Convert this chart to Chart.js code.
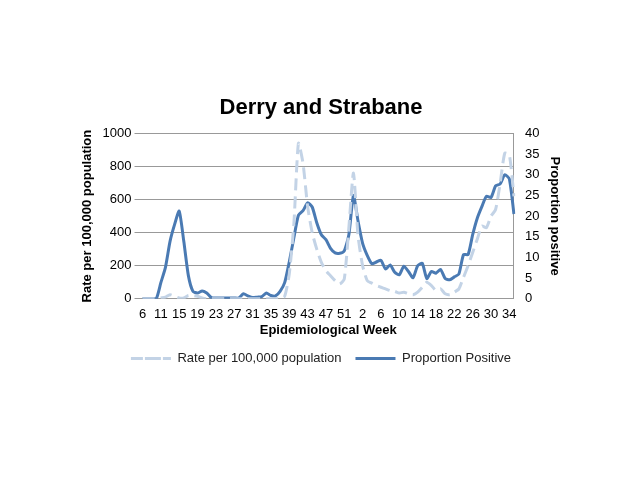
<!DOCTYPE html>
<html><head><meta charset="utf-8">
<script src="https://cdn.jsdelivr.net/npm/chart.js@4"></script>
<style>body{margin:0;background:#fff}#w{position:absolute;left:76px;top:95px;width:490px;height:280px}</style>
</head><body><div id="w"><canvas id="c"></canvas></div>
<script>
const weeks=[6,8,9,10,11,12,13,14,15,16,17,18,19,20,21,22,23,24,25,26,27,28,29,30,31,32,33,34,35,36,37,38,39,40,41,42,43,44,45,46,47,48,49,50,51,52,53,1,2,3,4,5,6,7,8,9,10,11,12,13,14,15,16,17,18,19,20,21,22,23,24,25,26,27,28,29,30,31,32,33,34,35];
const ratePer100k=[0,0,0,0,5,10,25,15,5,5,20,20,15,5,0,0,0,0,0,0,0,0,0,0,0,0,0,0,0,0,0,15,150,450,940,820,560,400,300,220,170,140,110,90,120,430,760,380,200,110,95,80,70,60,50,45,35,40,30,25,40,70,100,80,50,60,30,25,40,60,130,200,280,360,440,430,500,540,700,880,870,620];
const proportionPositive=[0,0,0,0,3.9,7.6,13.9,18,21.2,13.9,5.6,1.8,1.4,1.9,1.4,0.3,0.2,0.2,0.2,0.2,0.2,0.2,1.2,0.7,0.3,0.4,0.5,1.4,0.8,0.7,1.8,3.9,8.9,14.7,20.2,21.3,23.2,22.2,18.4,15.5,14.3,12.2,11.1,11,11.6,15.5,25,18.8,13.4,10.5,8.5,8.9,9.3,7.2,8.2,6.4,5.8,7.9,6.6,5.1,8,8.6,4.9,6.6,6.2,7.1,4.9,4.6,5.3,6,10.7,10.7,15.5,19.5,22.3,24.8,24.5,27.3,27.8,30,29,20.5];
const F='"Liberation Sans", Arial, sans-serif';
new Chart(document.getElementById('c'),{type:'line',
data:{labels:weeks.map(String),datasets:[
{label:'Rate per 100,000 population',data:ratePer100k,yAxisID:'y',borderColor:'#c3d3e6',borderWidth:3,borderDash:[12,6],pointRadius:0,tension:0.2},
{label:'Proportion Positive',data:proportionPositive,yAxisID:'y1',borderColor:'#4a7ab3',borderWidth:3,pointRadius:0,tension:0.2}]},
options:{animation:false,responsive:true,maintainAspectRatio:false,
plugins:{title:{display:true,text:'Derry and Strabane',color:'#000',font:{family:F,size:22,weight:'bold'},padding:{top:0,bottom:12}},
legend:{position:'bottom',labels:{color:'#222',font:{family:F,size:13},boxWidth:40,boxHeight:0,padding:14}}},
scales:{
x:{grid:{display:false},border:{color:'#999'},ticks:{color:'#000',font:{family:F,size:13},autoSkip:false,maxRotation:0,padding:0,callback:(v,i)=>i%4===0?weeks[i]:''},
title:{display:true,text:'Epidemiological Week',color:'#000',font:{family:F,size:13,weight:'bold'},padding:0}},
y:{min:0,max:1000,ticks:{stepSize:200,color:'#000',font:{family:F,size:13},callback:v=>String(v)},grid:{color:'#999'},border:{display:false},
title:{display:true,text:'Rate per 100,000 population',color:'#000',font:{family:F,size:13,weight:'bold'}}},
y1:{position:'right',min:0,max:40,ticks:{stepSize:5,color:'#000',font:{family:F,size:13}},grid:{display:false},border:{color:'#999'},
title:{display:true,text:'Proportion positive',color:'#000',font:{family:F,size:13,weight:'bold'}}}}}});
</script></body></html>
